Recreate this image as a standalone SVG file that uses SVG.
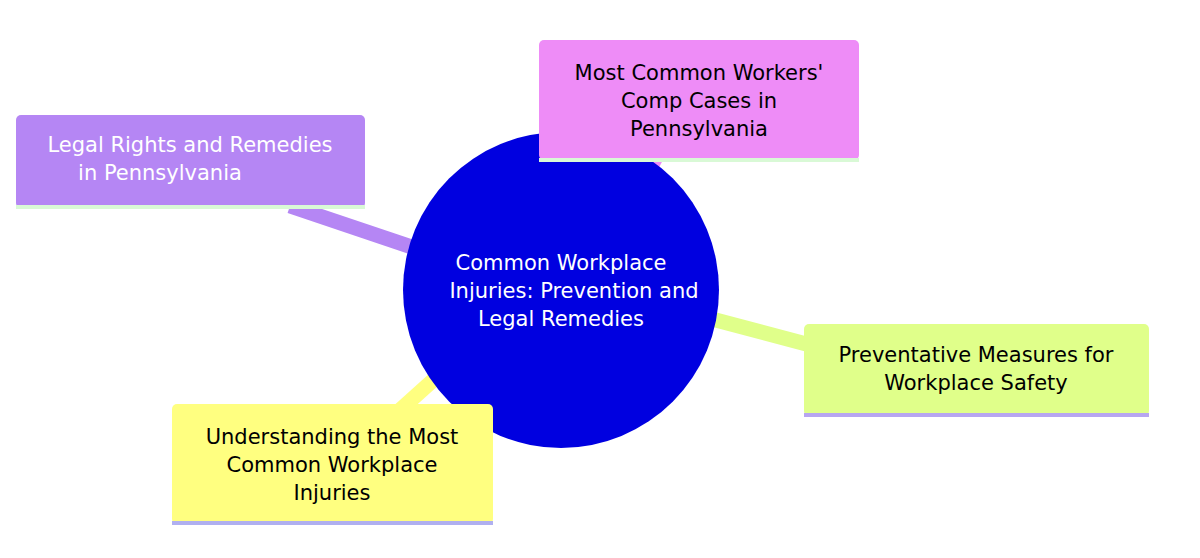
<svg xmlns="http://www.w3.org/2000/svg" width="1200" height="558" viewBox="0 0 1200 558">
<style>
text{font-family:"DejaVu Sans","Liberation Sans",sans-serif;font-size:21px;text-anchor:middle}
.w{fill:#ffffff}.b{fill:#000000}
.c{fill:none;stroke-width:15;stroke-linecap:butt}
</style>
<rect width="1200" height="558" fill="#ffffff"/>
<g id="connectors">
<line class="c" stroke="#b586f4" x1="290" y1="206" x2="480" y2="270"/>
<line class="c" stroke="#ee8cf7" x1="660" y1="150" x2="600" y2="260"/>
<line class="c" stroke="#e0ff8a" x1="810" y1="345" x2="640" y2="300"/>
<line class="c" stroke="#ffff80" x1="400" y1="410" x2="500" y2="320"/>
</g>
<g id="root">
<circle cx="561" cy="290" r="158" fill="#0000e0"/>
<text class="w" x="561" y="270">Common Workplace</text>
<text class="w" x="574" y="298">Injuries: Prevention and</text>
<text class="w" x="561" y="326">Legal Remedies</text>
</g>
<g id="n1">
<rect x="539" y="40" width="320" height="120" rx="5" fill="#ee8cf7"/>
<rect x="539" y="158" width="320" height="4" fill="#d9f9d6"/>
<text class="b" x="699" y="80">Most Common Workers'</text>
<text class="b" x="699" y="108">Comp Cases in</text>
<text class="b" x="699" y="136">Pennsylvania</text>
</g>
<g id="n2">
<rect x="16" y="115" width="349" height="93" rx="5" fill="#b586f4"/>
<rect x="16" y="205" width="349" height="4" fill="#d9f9d6"/>
<text class="w" x="190" y="152">Legal Rights and Remedies</text>
<text class="w" x="160" y="180">in Pennsylvania</text>
</g>
<g id="n3">
<rect x="804" y="324" width="345" height="92" rx="5" fill="#e0ff8a"/>
<rect x="804" y="413" width="345" height="4" fill="#b7a6f0"/>
<text class="b" x="976" y="362">Preventative Measures for</text>
<text class="b" x="976" y="390">Workplace Safety</text>
</g>
<g id="n4">
<rect x="172" y="404" width="321" height="120" rx="5" fill="#ffff80"/>
<rect x="172" y="521" width="321" height="4" fill="#b0b0f0"/>
<text class="b" x="332" y="444">Understanding the Most</text>
<text class="b" x="332" y="472">Common Workplace</text>
<text class="b" x="332" y="500">Injuries</text>
</g>
</svg>
